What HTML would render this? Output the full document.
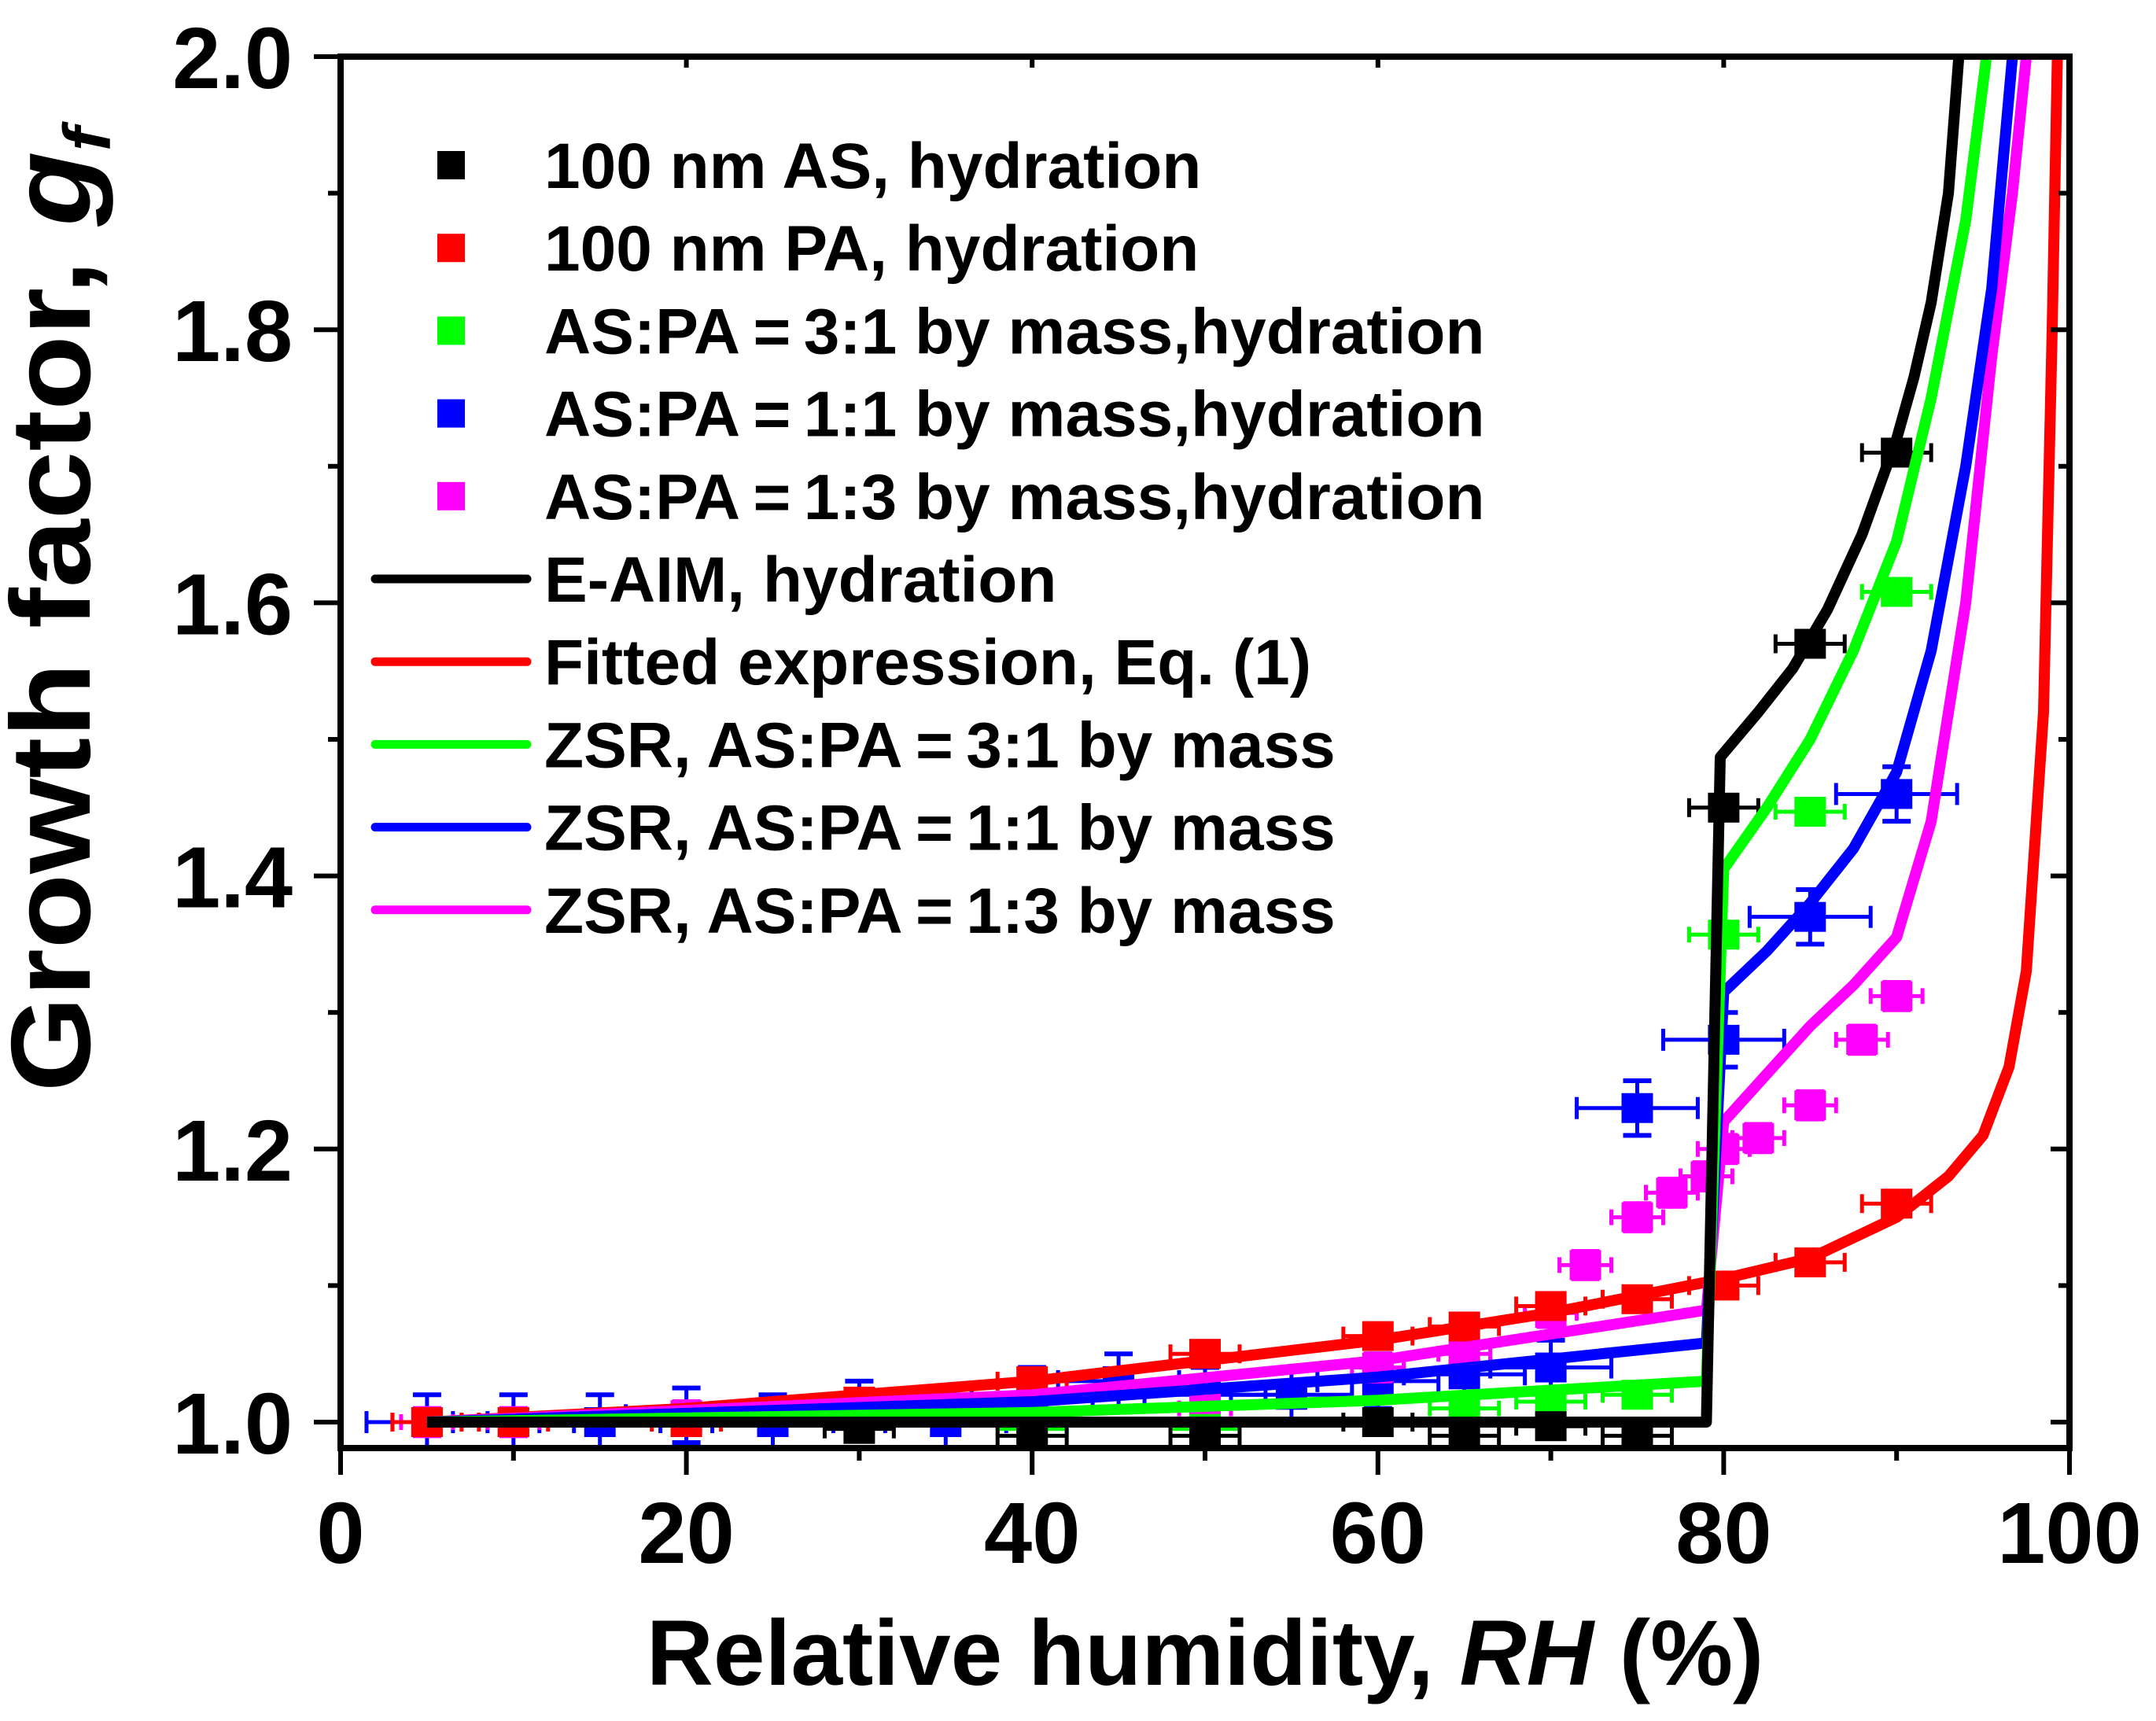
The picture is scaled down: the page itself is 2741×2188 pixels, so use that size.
<!DOCTYPE html>
<html><head><meta charset="utf-8"><style>
html,body{margin:0;padding:0;background:#fff;}
svg{display:block;font-family:"Liberation Sans",Arial,sans-serif;font-weight:bold;}
</style></head><body>
<svg id="chart" width="2741" height="2188" viewBox="0 0 2741 2188" xmlns="http://www.w3.org/2000/svg">
<defs><clipPath id="plotclip"><rect x="433" y="72" width="2198" height="1769"/></clipPath></defs>
<g id="marks" clip-path="url(#plotclip)"></g>
<g id="axes"></g>
<g id="legend"></g>
<text x="1532" y="2142" font-size="118" text-anchor="middle">Relative humidity, <tspan font-style="italic">RH</tspan> (%)</text>
<text transform="translate(114,775) scale(0.92,1) rotate(-90)" font-size="156" text-anchor="middle">Growth factor, <tspan font-style="italic">g</tspan><tspan font-style="italic" font-size="92" dy="28">f</tspan></text>
</svg>
<script>
// Data arrays
const asRH = [30,40,50,60,65,70,75,80,85,90];
const asGF = [0.995,0.99,0.99,1.0,0.99,0.997,0.99,1.45,1.57,1.71];
const paRH = [5,10,20,30,40,50,60,65,70,75,80,85,90];
const paGF = [1.0,1.0,1.0,1.015,1.03,1.05,1.063,1.07,1.085,1.09,1.10,1.117,1.16];
const g31RH = [5,10,20,30,40,50,65,70,75,80,85,90];
const g31GF = [1.0,1.0,1.0,1.0,0.995,0.995,1.01,1.015,1.02,1.357,1.447,1.608];
const b11RH = [5,10,15,20,25,30,35,40,45,50,55,60,65,70,75,80,85,90];
const b11GF = [1.0,1.0,1.0,1.005,1.0,1.01,1.0,1.02,1.03,1.02,1.02,1.03,1.035,1.04,1.23,1.28,1.37,1.46];
const m13RH = [5,10,20,50,60,65,70,72,75,77,79,80,82,85,88,90];
const m13GF = [1.0,1.0,1.005,1.01,1.04,1.05,1.08,1.115,1.15,1.168,1.18,1.20,1.208,1.232,1.28,1.312];

const eaimRH = [5,79,79.8,82,84,86,88,90,91,92,93,93.6];
const eaimGF = [1.0,1.0,1.487,1.52,1.552,1.595,1.65,1.72,1.765,1.82,1.9,2.0];
const fitRH = [5,20,40,60,70,80,85,90,93,95,96.5,97.5,98.5,99,99.3];
const fitGF = [1.0,1.01,1.03,1.06,1.08,1.105,1.12,1.15,1.18,1.21,1.26,1.33,1.52,1.8,2.0];
const z31RH = [5,40,60,79,80,82.5,85,87.5,90,92,94,95.2];
const z31GF = [1.0,1.007,1.016,1.03,1.405,1.45,1.5,1.565,1.645,1.75,1.88,2.0];
const z11RH = [5,40,60,79,80,82.5,85,87.5,90,92,94,95.5,96.7];
const z11GF = [1.0,1.015,1.033,1.058,1.315,1.345,1.38,1.42,1.476,1.565,1.7,1.83,2.0];
const z13RH = [5,40,60,79,80,82.5,85,87.5,90,92,94,95.5,96.7,97.5];
const z13GF = [1.0,1.02,1.045,1.082,1.22,1.255,1.29,1.32,1.355,1.44,1.6,1.78,1.9,2.0];

const xTicks = [0,20,40,60,80,100];
const yTicks = [1.0,1.2,1.4,1.6,1.8,2.0];
const yTickLabels = ["1.0","1.2","1.4","1.6","1.8","2.0"];

const NS="http://www.w3.org/2000/svg";
const X0=433,X1=2631,YB=1841,YT=72;
function xs(v){return X0+(X1-X0)*v/100;}
function ys(v){return 1808-1736*(v-1);}
function mk(tag,attrs,parent){const e=document.createElementNS(NS,tag);for(const k in attrs)e.setAttribute(k,attrs[k]);parent.appendChild(e);return e;}
const marks=document.getElementById('marks'),axes=document.getElementById('axes'),legend=document.getElementById('legend');

function points(rh,gf,color,name,xe,ye,cap){
  const g=mk('g',{},marks);
  
  
  rh.forEach((r,i)=>{
    const cx=xs(r),cy=ys(gf[i]);
    const dx=xs(xe)-xs(0);
    mk('line',{x1:cx-dx,x2:cx+dx,y1:cy,y2:cy,stroke:color,'stroke-width':5},g);
    mk('line',{x1:cx-dx,x2:cx-dx,y1:cy-cap,y2:cy+cap,stroke:color,'stroke-width':5},g);
    mk('line',{x1:cx+dx,x2:cx+dx,y1:cy-cap,y2:cy+cap,stroke:color,'stroke-width':5},g);
    if(ye>0){const dy=ys(1)-ys(1+ye);
      mk('line',{x1:cx,x2:cx,y1:cy-dy,y2:cy+dy,stroke:color,'stroke-width':5},g);
      mk('line',{x1:cx-18,x2:cx+18,y1:cy-dy,y2:cy-dy,stroke:color,'stroke-width':6},g);
      mk('line',{x1:cx-18,x2:cx+18,y1:cy+dy,y2:cy+dy,stroke:color,'stroke-width':6},g);}
    const p=mk('rect',{x:cx-20,y:cy-19,width:40,height:38,fill:color},g);
    
    
  });
}
function curve(rh,gf,color,name){
  const d=rh.map((r,i)=>(i?'L':'M')+xs(r).toFixed(1)+','+ys(gf[i]).toFixed(1)).join(' ');
  const p=mk('path',{d:d,fill:'none',stroke:color,'stroke-width':14,'stroke-linejoin':'round'},marks);
  
  
}
points(b11RH,b11GF,'#0000ff','as-pa-1-1',3.5,0.02,14);
points(m13RH,m13GF,'#ff00ff','as-pa-1-3',1.5,0.01,10);
points(g31RH,g31GF,'#00ff00','as-pa-3-1',2,0.008,10);
points(paRH,paGF,'#ff0000','pa-100nm',2,0,12);
points(asRH,asGF,'#000000','as-100nm',2,0,12);
curve(fitRH,fitGF,'#ff0000','fitted-curve');
curve(z13RH,z13GF,'#ff00ff','zsr-1-3-curve');
curve(z11RH,z11GF,'#0000ff','zsr-1-1-curve');
curve(z31RH,z31GF,'#00ff00','zsr-3-1-curve');
curve(eaimRH,eaimGF,'#000000','eaim-curve');

const fr=mk('rect',{x:X0,y:YT,width:X1-X0,height:YB-YT,fill:'none',stroke:'#000','stroke-width':8},axes);


for(let v=0;v<=100;v+=10){
  const major=v%20===0,x=xs(v);
  mk('line',{x1:x,x2:x,y1:YB,y2:YB+(major?34:16),stroke:'#000','stroke-width':6},axes);
  if(v>0&&v<100&&major) mk('line',{x1:x,x2:x,y1:YT,y2:YT+14,stroke:'#000','stroke-width':6},axes);
}
xTicks.forEach(v=>{
  const t=mk('text',{x:xs(v),y:1987,'font-size':110,'text-anchor':'middle'},axes);
  t.textContent=String(v);
  
  
});
for(let i=0;i<=10;i++){
  const v=1+i*0.1,y=ys(v),major=i%2===0;
  if(major) mk('line',{x1:X0-34,x2:X0,y1:y,y2:y,stroke:'#000','stroke-width':6},axes);
  else mk('line',{x1:X0-16,x2:X0,y1:y,y2:y,stroke:'#000','stroke-width':6},axes);
  mk('line',{x1:X1-(major?24:14),x2:X1,y1:y,y2:y,stroke:'#000','stroke-width':6},axes);
}
yTicks.forEach((v,i)=>{
  const t=mk('text',{x:372,y:ys(v)+40,'font-size':110,'text-anchor':'end'},axes);
  t.textContent=yTickLabels[i];
  
  
});

const legItems=[
 ['sq','#000000','100 nm AS, hydration'],
 ['sq','#ff0000','100 nm PA, hydration'],
 ['sq','#00ff00','AS:PA\u2009=\u20093:1 by mass,hydration'],
 ['sq','#0000ff','AS:PA\u2009=\u20091:1 by mass,hydration'],
 ['sq','#ff00ff','AS:PA\u2009=\u20091:3 by mass,hydration'],
 ['ln','#000000','E-AIM, hydration'],
 ['ln','#ff0000','Fitted expression, Eq. (1)'],
 ['ln','#00ff00','ZSR, AS:PA\u2009=\u20093:1 by mass'],
 ['ln','#0000ff','ZSR, AS:PA\u2009=\u20091:1 by mass'],
 ['ln','#ff00ff','ZSR, AS:PA\u2009=\u20091:3 by mass']];
legItems.forEach((it,i)=>{
  const y=210+i*105.2;
  const g=mk('g',{},legend);
  
  
  if(it[0]==='sq') mk('rect',{x:556,y:y-18,width:35,height:36,fill:it[1]},g);
  else mk('line',{x1:477,x2:670,y1:y,y2:y,stroke:it[1],'stroke-width':11,'stroke-linecap':'round'},g);
  const t=mk('text',{x:692,y:y+29,'font-size':82},g);
  t.textContent=it[2];
});
</script>
</body></html>
